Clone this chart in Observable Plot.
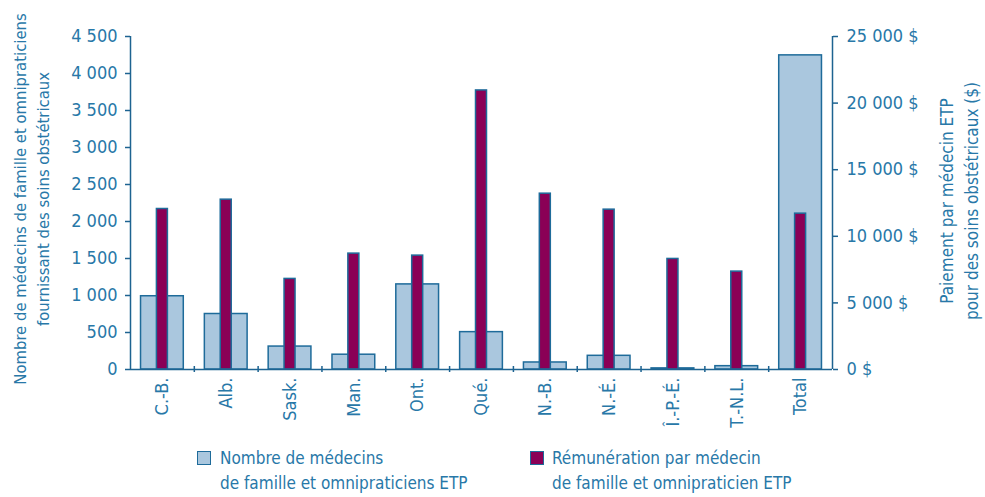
<!DOCTYPE html>
<html>
<head>
<meta charset="utf-8">
<script src="https://cdn.jsdelivr.net/npm/d3@7"></script>
<script src="https://cdn.jsdelivr.net/npm/@observablehq/plot@0.6"></script>
<style>
  html, body { margin: 0; padding: 0; background: #fff; }
  #wrap { position: relative; width: 985px; height: 497px; font-family: "Liberation Sans Narrow", "Arial Narrow", "DejaVu Sans Condensed", "Roboto", sans-serif; font-stretch: condensed; color: #2878a8; }
  .leg { position: absolute; font-size: 17px; line-height: 25px; color: #2878a8; }
  .sw { position: absolute; width: 12px; height: 12px; border: 1.5px solid #1e6b9a; }
</style>
</head>
<body>
<div id="wrap">
  <div id="chart"></div>
  <div class="sw" style="left:197px; top:451px; background:#aac7de;"></div>
  <div class="leg" style="left:220px; top:446px;">Nombre de médecins<br>de famille et omnipraticiens ETP</div>
  <div class="sw" style="left:530px; top:451px; background:#8a0056;"></div>
  <div class="leg" style="left:552px; top:446px;">Rémunération par médecin<br>de famille et omnipraticien ETP</div>
</div>
<script>
const categories = ["C.-B.", "Alb.", "Sask.", "Man.", "Ont.", "Qué.", "N.-B.", "N.-É.", "Î.-P.-É.", "T.-N.L.", "Total"];
const nombreMedecins = [990, 750, 310, 200, 1150, 505, 95, 185, 15, 45, 4245];
const remuneration = [12050, 12750, 6800, 8700, 8550, 20950, 13200, 12000, 8300, 7350, 11700];
const leftTicks = [0, 500, 1000, 1500, 2000, 2500, 3000, 3500, 4000, 4500];
const rightTicks = [0, 5000, 10000, 15000, 20000, 25000];
const leftTitle = "Nombre de médecins de famille et omnipraticiens\nfournissant des soins obstétricaux";
const rightTitle = "Paiement par médecin ETP\npour des soins obstétricaux ($)";

const leftMax = 4500, rightMax = 25000;
const k = leftMax / rightMax;

const textColor = "#2878a8";
const lineColor = "#1d6391";
const barStroke = "#1e6b9a";
const blueFill = "#aac7de";
const purpleFill = "#8a0056";
const fontFamily = '"Liberation Sans Narrow", "Arial Narrow", "DejaVu Sans Condensed", Roboto, sans-serif';

const loc = d3.formatLocale({decimal: ",", thousands: " ", grouping: [3], currency: ["", " $"]});
const fmt = loc.format(",d");

const W = 985, H = 440, mL = 130, mR = 153, mT = 36, mB = 71;
const step = (W - mL - mR) / categories.length;
const padInner = 0.33;
const bw = step * (1 - padInner);
const purpleW = 11;

const rows = categories.map((c, i) => ({cat: c, n: nombreMedecins[i], r: remuneration[i] * k}));

const chart = Plot.plot({
  width: W, height: H,
  marginLeft: mL, marginRight: mR, marginTop: mT, marginBottom: mB,
  style: {fontFamily, fontSize: "18px", color: textColor, background: "white", fontStretch: "condensed"},
  x: {domain: categories, paddingInner: padInner, paddingOuter: padInner / 2, round: false},
  y: {domain: [0, leftMax], nice: false},
  marks: [
    Plot.barY(rows, {x: "cat", y: "n", fill: blueFill, stroke: barStroke, strokeWidth: 1.5}),
    Plot.barY(rows, {x: "cat", y: "r", fill: purpleFill, stroke: barStroke, strokeWidth: 1.5,
      insetLeft: (bw - purpleW) / 2, insetRight: (bw - purpleW) / 2}),
    Plot.ruleY([0], {stroke: lineColor, strokeWidth: 1.5}),
    Plot.ruleX(categories.slice(1), {x: d => d, y1: 0, y2: 0, dx: -step / 2, insetTop: -3, insetBottom: -3, stroke: lineColor, strokeWidth: 1.5}),
    Plot.ruleX([categories[0]], {x: d => d, y1: 0, y2: leftMax, dx: -step / 2, stroke: lineColor, strokeWidth: 1.5}),
    Plot.ruleX([categories[categories.length - 1]], {x: d => d, y1: 0, y2: leftMax, dx: step / 2, stroke: lineColor, strokeWidth: 1.5}),
    Plot.axisY({anchor: "left", ticks: leftTicks, tickFormat: fmt, tickSize: 5, tickPadding: 8, stroke: lineColor, fill: textColor, fontSize: 18, label: null, strokeWidth: 1.5}),
    Plot.axisY({anchor: "right", ticks: rightTicks.map(v => v * k), tickFormat: d => fmt(Math.round(d / k)) + " $", tickSize: 5, tickPadding: 9, stroke: lineColor, fill: textColor, fontSize: 18, label: null, strokeWidth: 1.5}),
    Plot.axisX({anchor: "bottom", tickRotate: -90, tickSize: 0, tickPadding: 8, fill: textColor, fontSize: 18, label: null}),
    Plot.text([leftTitle], {text: d => d, frameAnchor: "left", dx: -100, dy: -4, rotate: -90, fill: textColor, fontSize: 16.5, lineHeight: 1.4, lineAnchor: "middle", textAnchor: "middle"}),
    Plot.text([rightTitle], {text: d => d, frameAnchor: "right", dx: 125, dy: -2, rotate: -90, fill: textColor, fontSize: 17, lineHeight: 1.5, lineAnchor: "middle", textAnchor: "middle"})
  ]
});
document.getElementById("chart").appendChild(chart);
</script>
</body>
</html>
